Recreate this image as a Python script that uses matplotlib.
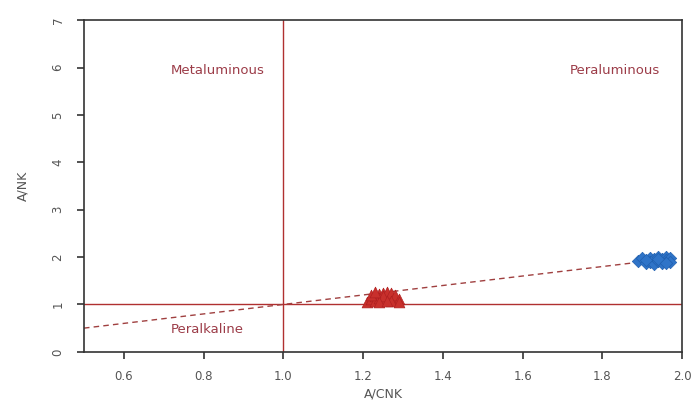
import matplotlib
matplotlib.use("Agg")
import matplotlib.pyplot as plt

plt.rcParams['font.family'] = ['DejaVu Sans']

# Data
red_acnk = [1.21, 1.22, 1.23, 1.23, 1.24, 1.24, 1.25, 1.25, 1.26, 1.26, 1.27, 1.27, 1.28, 1.28, 1.29, 1.22, 1.25, 1.24, 1.27, 1.29, 1.26, 1.23]
red_ank = [1.06, 1.12, 1.18, 1.08, 1.22, 1.14, 1.25, 1.10, 1.20, 1.27, 1.15, 1.24, 1.09, 1.19, 1.12, 1.20, 1.17, 1.05, 1.07, 1.05, 1.08, 1.26]
blue_acnk = [1.89, 1.90, 1.91, 1.92, 1.92, 1.93, 1.93, 1.94, 1.94, 1.95, 1.95, 1.96, 1.96, 1.97, 1.97, 1.91, 1.94, 1.96]
blue_ank = [1.92, 1.97, 1.88, 1.99, 1.90, 1.95, 1.86, 2.00, 1.91, 1.96, 1.88, 2.01, 1.93, 1.97, 1.90, 1.93, 1.95, 1.87]
ref_x = [0.5, 1.9]
ref_y = [0.5, 1.9]
xticks = [0.6, 0.8, 1.0, 1.2, 1.4, 1.6, 1.8, 2.0]
yticks = [0, 1, 2, 3, 4, 5, 6, 7]

fig = plt.figure(figsize=(6.94, 4.03), dpi=100)
ax = fig.add_axes([0.121, 0.127, 0.862, 0.823])

ax.axvline(1.0, color='#b03030', lw=1.0, zorder=1)
ax.axhline(1.0, color='#b03030', lw=1.0, zorder=1)
ax.plot(ref_x, ref_y, color='#a04040', lw=1.0, ls=(0, (4, 3)), zorder=1)

ax.scatter(red_acnk, red_ank, marker='^', s=60, color='#c8302c', edgecolors='#b02020', lw=0.5, zorder=3)
ax.scatter(blue_acnk, blue_ank, marker='D', s=40, color='#2f74c8', edgecolors='#2060b0', lw=0.5, zorder=3)

tc = '#9c3c48'
ax.text(0.835, 5.94, 'Metaluminous', color=tc, fontsize=9.5, ha='center', va='center')
ax.text(1.83, 5.94, 'Peraluminous', color=tc, fontsize=9.5, ha='center', va='center')
ax.text(0.81, 0.47, 'Peralkaline', color=tc, fontsize=9.5, ha='center', va='center')

ax.set_xlim(0.5, 2.0)
ax.set_ylim(0, 7)
ax.set_xticks(xticks)
ax.set_xticklabels([f'{v:.1f}' for v in xticks])
ax.set_yticks(yticks)
ax.set_yticklabels([str(v) for v in yticks], rotation=90, va='center')

ax.tick_params(direction='out', length=5, width=1.2, colors='#333333', labelcolor='#555555', labelsize=8.5)
ax.tick_params(axis='y', pad=9)
ax.tick_params(axis='x', pad=8)
for s in ax.spines.values():
    s.set_linewidth(1.2)
    s.set_color('#333333')

ax.set_xlabel('A/CNK', fontsize=9, color='#555555', labelpad=3)
ax.set_ylabel('A/NK', fontsize=9, color='#555555', labelpad=16)

fig.savefig('out.png', dpi=100)
